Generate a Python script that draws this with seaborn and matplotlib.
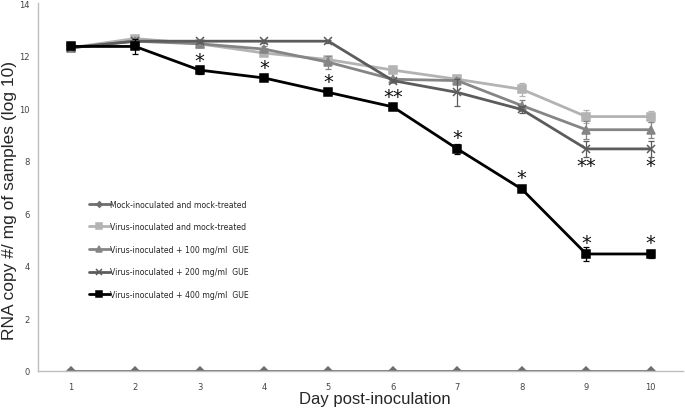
import seaborn as sns
import matplotlib.pyplot as plt
import pandas as pd

days = [1, 2, 3, 4, 5, 6, 7, 8, 9, 10]

mock = [0, 0, 0, 0, 0, 0, 0, 0, 0, 0]
virus_mock = [12.3, 12.65, 12.45, 12.1, 11.85, 11.45, 11.1, 10.72, 9.68, 9.68]
gue100 = [12.3, 12.55, 12.45, 12.25, 11.75, 11.1, 11.05, 10.1, 9.18, 9.18]
gue200 = [12.3, 12.55, 12.55, 12.55, 12.55, 11.05, 10.6, 9.95, 8.45, 8.45]
gue400 = [12.35, 12.35, 11.45, 11.15, 10.6, 10.05, 8.45, 6.92, 4.45, 4.45]

err_virus_mock = [0.05, 0.05, 0.05, 0.05, 0.05, 0.05, 0.1, 0.25, 0.25, 0.2]
err_gue100 = [0.05, 0.05, 0.05, 0.1, 0.25, 0.05, 0.1, 0.2, 0.35, 0.3]
err_gue200 = [0.05, 0.05, 0.05, 0.05, 0.05, 0.05, 0.5, 0.15, 0.3, 0.3]
err_gue400 = [0.05, 0.3, 0.15, 0.05, 0.05, 0.05, 0.2, 0.05, 0.25, 0.15]

labels = ['Mock-inoculated and mock-treated',
          'Virus-inoculated and mock-treated',
          'Virus-inoculated + 100 mg/ml  GUE',
          'Virus-inoculated + 200 mg/ml  GUE',
          'Virus-inoculated + 400 mg/ml  GUE']

# significance stars (day, y, text)
star_days = [3, 4, 5, 6, 7, 8, 9, 10, 9, 10]
star_y = [11.8, 11.55, 11.0, 10.45, 8.9, 7.35, 4.9, 4.9, 7.8, 7.8]
star_txt = ['*', '*', '*', '**', '*', '*', '*', '*', '**', '*']

sns.set_style('white')
fig, ax = plt.subplots(figsize=(6.85, 4.1), dpi=100)
fig.subplots_adjust(left=0.056, right=0.997, bottom=0.093, top=0.99)

series = [mock, virus_mock, gue100, gue200, gue400]
errs = [None, err_virus_mock, err_gue100, err_gue200, err_gue400]
colors = ['#6e6e6e', '#b3b3b3', '#858585', '#5c5c5c', '#000000']
markers = ['D', 's', '^', 'x', 's']
msizes = [4, 6, 6, 6, 6]

for vals, err, col, mk, ms, lab in zip(series, errs, colors, markers, msizes, labels):
    df = pd.DataFrame({'day': days, 'val': vals})
    sns.lineplot(data=df, x='day', y='val', color=col, marker=mk, markersize=ms,
                 markeredgecolor=col, markeredgewidth=1.1, linewidth=2, label=lab, ax=ax)
    if err is not None:
        ax.errorbar(days, vals, yerr=err, fmt='none', ecolor=col, elinewidth=0.9,
                    capsize=2.5, capthick=0.9)

for d, y, t in zip(star_days, star_y, star_txt):
    ax.text(d, y, t, ha='center', va='center', fontsize=14, color='#111111')

ax.set_xlim(0.5, 10.5)
ax.set_ylim(0, 14)
ax.set_xticks(days)
ax.set_yticks(range(0, 15, 2))
ax.tick_params(axis='both', labelsize=6, colors='#444444', length=0)
ax.tick_params(axis='x', pad=8)
ax.tick_params(axis='y', pad=6)
sns.despine(ax=ax)
for s in ['left', 'bottom']:
    ax.spines[s].set_color('#bdbdbd')
    ax.spines[s].set_linewidth(1)

ax.set_xlabel('Day post-inoculation', fontsize=12, family='Liberation Sans')
ax.set_ylabel('RNA copy #/ mg of samples (log 10)', fontsize=12.5, family='Liberation Sans')
ax.xaxis.set_label_coords(0.522, -0.055)
ax.yaxis.set_label_coords(-0.033, 0.467)

ax.legend(loc='upper left', bbox_to_anchor=(0.067, 0.485), frameon=False, fontsize=5.6,
          handlelength=2.7, handletextpad=0.1, labelspacing=1.75, markerscale=0.7)

plt.savefig('out.png', dpi=100)
